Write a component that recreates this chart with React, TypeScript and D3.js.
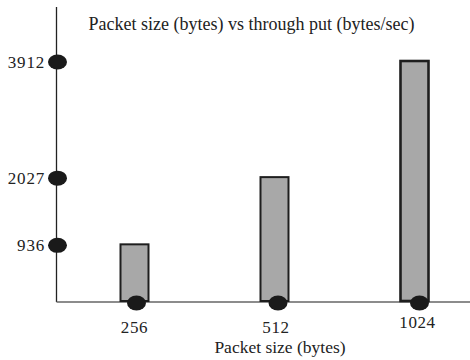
import React from "react";
import * as d3 from "d3";

const categories = ["256", "512", "1024"];
const throughput = [936, 2027, 3912];
const yTickValues = [936, 2027, 3912];
const title = "Packet size (bytes) vs through put (bytes/sec)";
const xTitle = "Packet size (bytes)";

export default function App() {
  const W = 470;
  const H = 360;
  const axisX = 56.5;
  const axisY = 302;
  const x = d3.scalePoint<string>().domain(categories).range([134.5, 414.5]);
  const y = d3.scaleLinear().domain([0, 3912]).range([axisY, 61]);
  const barW = 28;
  const font = "'Liberation Serif', 'Times New Roman', serif";
  return (
    <svg
      width={W}
      height={H}
      style={{ position: "absolute", left: 0, top: 0, background: "#fff" }}
      fontFamily={font}
    >
      <text x={251.5} y={30} fontSize={18} textAnchor="middle" fill="#222">
        {title}
      </text>
      {/* axes */}
      <line x1={axisX} x2={axisX} y1={7} y2={axisY} stroke="#222" strokeWidth={1.3} />
      <line x1={axisX} x2={W} y1={axisY} y2={axisY} stroke="#666" strokeWidth={1.3} />
      {/* bars */}
      {categories.map((c, i) => {
        const cx = x(c)!;
        return (
          <rect
            key={c}
            x={cx - barW / 2}
            y={y(throughput[i])}
            width={barW}
            height={axisY - 1 - y(throughput[i])}
            fill="#a8a8a8"
            stroke="#1e1e1e"
            strokeWidth={i === 2 ? 2.6 : 2}
          />
        );
      })}
      {/* x dots and labels */}
      {categories.map((c, i) => {
        const cx = x(c)!;
        return (
          <g key={c}>
            <ellipse cx={cx + 2 + i * 1.5} cy={303} rx={9.5} ry={7.5} fill="#1a1a1a" />
            <text
              x={cx + i * 1.5}
              y={i === 2 ? 328 : 333}
              fontSize={17}
              letterSpacing={0.6}
              textAnchor="middle"
              fill="#222"
            >
              {c}
            </text>
          </g>
        );
      })}
      {/* y dots and labels */}
      {yTickValues.map((v) => (
        <g key={v}>
          <ellipse cx={57.5} cy={y(v) + 1} rx={9.5} ry={7.5} fill="#1a1a1a" />
          <text
            x={45}
            y={y(v) + 7}
            fontSize={17}
            letterSpacing={0.8}
            textAnchor="end"
            fill="#222"
          >
            {v}
          </text>
        </g>
      ))}
      <text x={280} y={353} fontSize={17.5} textAnchor="middle" fill="#222">
        {xTitle}
      </text>
    </svg>
  );
}
